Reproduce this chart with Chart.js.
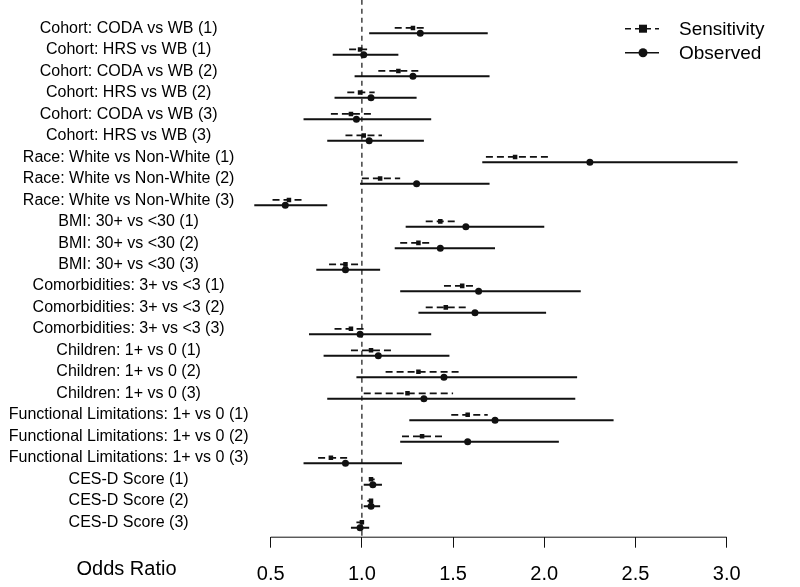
<!DOCTYPE html>
<html>
<head>
<meta charset="utf-8">
<script src="https://cdn.jsdelivr.net/npm/chart.js@4/dist/chart.umd.min.js"></script>
<style>
html,body{margin:0;padding:0;background:#fff;}
#wrap{width:800px;height:587px;position:relative;}
</style>
</head>
<body>
<div id="wrap"><canvas id="c" width="800" height="587"></canvas></div>
<script>
const categories = [
  "Cohort: CODA vs WB (1)","Cohort: HRS vs WB (1)","Cohort: CODA vs WB (2)","Cohort: HRS vs WB (2)",
  "Cohort: CODA vs WB (3)","Cohort: HRS vs WB (3)","Race: White vs Non-White (1)","Race: White vs Non-White (2)",
  "Race: White vs Non-White (3)","BMI: 30+ vs <30 (1)","BMI: 30+ vs <30 (2)","BMI: 30+ vs <30 (3)",
  "Comorbidities: 3+ vs <3 (1)","Comorbidities: 3+ vs <3 (2)","Comorbidities: 3+ vs <3 (3)",
  "Children: 1+ vs 0 (1)","Children: 1+ vs 0 (2)","Children: 1+ vs 0 (3)",
  "Functional Limitations: 1+ vs 0 (1)","Functional Limitations: 1+ vs 0 (2)","Functional Limitations: 1+ vs 0 (3)",
  "CES-D Score (1)","CES-D Score (2)","CES-D Score (3)"
];
const observedOR = [1.32,1.01,1.28,1.05,0.97,1.04,2.25,1.30,0.58,1.57,1.43,0.91,1.64,1.62,0.99,1.09,1.45,1.34,1.73,1.58,0.91,1.06,1.05,0.99];
const observedLo = [1.04,0.84,0.96,0.85,0.68,0.81,1.66,0.99,0.41,1.24,1.18,0.75,1.21,1.31,0.71,0.79,0.97,0.81,1.26,1.21,0.68,1.01,1.01,0.94];
const observedHi = [1.69,1.20,1.70,1.30,1.38,1.34,3.06,1.70,0.81,2.00,1.73,1.10,2.20,2.01,1.38,1.48,2.18,2.17,2.38,2.08,1.22,1.11,1.10,1.04];
const sensitivityOR = [1.28,0.99,1.20,0.99,0.94,1.01,1.84,1.10,0.60,1.43,1.31,0.91,1.55,1.46,0.94,1.05,1.31,1.25,1.58,1.33,0.83,1.05,1.05,1.00];
const sensitivityLo = [1.18,0.93,1.09,0.92,0.83,0.91,1.68,1.00,0.51,1.35,1.21,0.82,1.45,1.35,0.85,0.94,1.13,1.01,1.49,1.22,0.76,1.04,1.03,0.97];
const sensitivityHi = [1.35,1.03,1.32,1.07,1.07,1.11,2.02,1.21,0.68,1.51,1.38,0.99,1.62,1.57,1.01,1.17,1.54,1.50,1.69,1.46,0.92,1.07,1.06,1.01];
const xTicks = [0.5,1.0,1.5,2.0,2.5,3.0];
const refValue = 1.0;
const seriesNames = ["Sensitivity","Observed"];

const SENS_OFFSET = 0.25;
const LABEL_OFFSET = 0.24;
const FONT = "'Liberation Sans', Arial, Helvetica, sans-serif";
const INK = '#111111';

function segs(lo, hi, off){
  const out = [];
  lo.forEach((l,i)=>{ out.push({x:l,y:i+1-off},{x:hi[i],y:i+1-off},{x:NaN,y:NaN}); });
  return out;
}
function pts(v, off){ return v.map((x,i)=>({x:x,y:i+1-off})); }

const Y_MIN = -0.363, Y_MAX = 24.419;

const extras = {
  id:'extras',
  afterDraw(chart){
    const ctx = chart.ctx, xs = chart.scales.x, ca = chart.chartArea;
    ctx.save();
    ctx.strokeStyle = INK; ctx.lineWidth = 1;
    ctx.beginPath();
    ctx.moveTo(xs.getPixelForValue(xTicks[0]), ca.bottom+0.5);
    ctx.lineTo(xs.getPixelForValue(xTicks[xTicks.length-1]), ca.bottom+0.5);
    ctx.stroke();
    ctx.fillStyle = '#000';
    ctx.font = '20px ' + FONT;
    ctx.textAlign = 'center'; ctx.textBaseline = 'alphabetic';
    ctx.fillText('Odds Ratio', 126.5, 575);
    const lx0 = 625, lx1 = 659, lm = 643;
    const rows = [{y:28.7, dash:[6,4], shape:'rect'},{y:52.7, dash:[], shape:'circle'}];
    rows.forEach((r,k)=>{
      ctx.strokeStyle = INK; ctx.lineWidth = 1.6; ctx.setLineDash(r.dash);
      ctx.beginPath(); ctx.moveTo(lx0, r.y); ctx.lineTo(lx1, r.y); ctx.stroke();
      ctx.setLineDash([]);
      ctx.fillStyle = INK;
      if (r.shape==='rect'){ ctx.fillRect(lm-4, r.y-4, 8, 8); }
      else { ctx.beginPath(); ctx.arc(lm, r.y, 4.5, 0, Math.PI*2); ctx.fill(); }
      ctx.fillStyle = '#000';
      ctx.font = '19px ' + FONT;
      ctx.textAlign = 'left'; ctx.textBaseline = 'middle';
      ctx.fillText(seriesNames[k], 679, r.y+1);
    });
    ctx.restore();
  }
};

new Chart(document.getElementById('c'), {
  type: 'line',
  data: {
    datasets: [
      { label:'ref', data:[{x:refValue,y:Y_MIN-0.2},{x:refValue,y:Y_MAX}], borderColor:INK, borderWidth:1.2, borderDash:[5,4], pointRadius:0, fill:false, clip:false },
      { label:'Sensitivity CI', data:segs(sensitivityLo, sensitivityHi, SENS_OFFSET), borderColor:INK, borderWidth:1.8, borderDash:[7,4], pointRadius:0, spanGaps:false, fill:false },
      { label:'Observed CI', data:segs(observedLo, observedHi, 0), borderColor:INK, borderWidth:2, pointRadius:0, spanGaps:false, fill:false },
      { label:'Sensitivity', data:pts(sensitivityOR, SENS_OFFSET), showLine:false, pointStyle:'rect', pointRadius:3.2, backgroundColor:INK, borderColor:INK, borderWidth:0 },
      { label:'Observed', data:pts(observedOR, 0), showLine:false, pointStyle:'circle', pointRadius:3.5, backgroundColor:INK, borderColor:INK, borderWidth:0 }
    ]
  },
  options: {
    responsive:false, animation:false, events:[],
    layout:{ padding:{ left:0, right:55.1, top:0, bottom:0 } },
    plugins:{ legend:{display:false}, tooltip:{enabled:false} },
    scales:{
      x:{
        type:'linear', min:0.4, max:3.1,
        afterBuildTicks(s){ s.ticks = xTicks.map(v=>({value:v})); },
        afterFit(s){ s.height = 50.3; s.paddingLeft = 0; s.paddingRight = 0; },
        grid:{ display:true, drawOnChartArea:false, drawTicks:true, tickLength:11, color:INK, lineWidth:1 },
        border:{ display:false },
        ticks:{ color:'#000', font:{ family:FONT, size:20 }, padding:15, maxRotation:0, autoSkip:false,
          callback:(v)=>Number(v).toFixed(1) }
      },
      y:{
        type:'linear', reverse:true, min:Y_MIN, max:Y_MAX,
        afterBuildTicks(s){ s.ticks = categories.map((c,i)=>({value:i+1-LABEL_OFFSET})); },
        afterFit(s){ s.width = 252.46; s.paddingTop = 0; s.paddingBottom = 0; },
        grid:{ display:false, drawTicks:false },
        border:{ display:false },
        ticks:{ color:'#000', font:{ family:FONT, size:16 }, padding:4, crossAlign:'center', autoSkip:false,
          callback:(v,i)=>categories[i] }
      }
    }
  },
  plugins:[extras]
});
</script>
</body>
</html>
